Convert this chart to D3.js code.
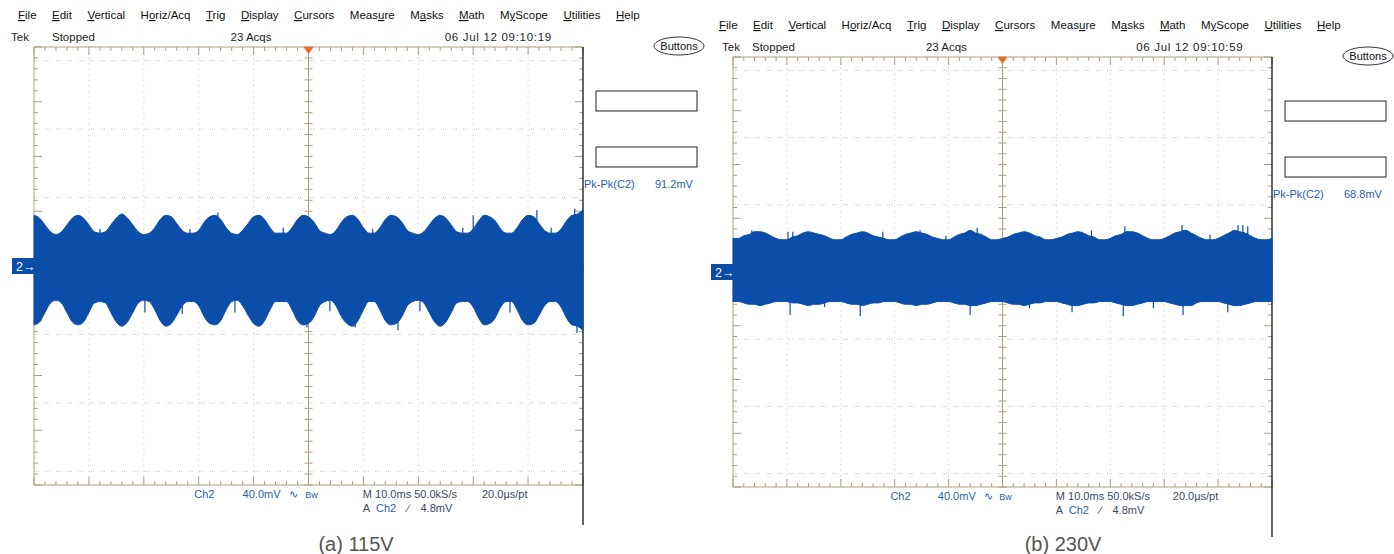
<!DOCTYPE html>
<html>
<head>
<meta charset="utf-8">
<script src="https://cdn.jsdelivr.net/npm/d3@7"></script>
<style>
body { margin: 0; background: #fff; }
svg text { font-family: "Liberation Sans Narrow", "Liberation Sans", Arial, sans-serif; }
</style>
</head>
<body>
<div id="chart"></div>
<script>
// scope sample times (ms), 10 ms/div over 10 divisions
var timeMs = d3.range(0, 101);

// (a) 115V - upper / lower envelope of the ripple band (mV)
var topA = [37, 35, 30, 25, 23, 25, 30, 35, 37, 35,
            30, 25, 24, 25, 30, 35, 38, 35, 30, 25,
            23, 24, 28, 34, 37, 36, 31, 26, 24, 24,
            26, 32, 36, 37, 34, 28, 24, 23, 26, 31,
            36, 37, 34, 28, 24, 24, 24, 28, 34, 37,
            36, 32, 26, 24, 23, 26, 32, 36, 37, 34,
            28, 24, 24, 28, 34, 37, 36, 32, 26, 24,
            23, 25, 30, 35, 37, 35, 30, 25, 24, 24,
            27, 33, 37, 36, 33, 27, 24, 24, 28, 34,
            37, 36, 31, 26, 24, 24, 27, 33, 37, 38,
            41];
var botA = [-43, -41, -34, -27, -25, -27, -34, -41, -43, -41,
            -34, -27, -26, -27, -34, -41, -44, -41, -34, -27,
            -25, -26, -32, -40, -44, -42, -36, -29, -26, -26,
            -29, -37, -42, -43, -40, -32, -26, -25, -29, -36,
            -42, -44, -40, -32, -26, -26, -26, -32, -40, -43,
            -42, -37, -29, -26, -25, -29, -37, -42, -44, -40,
            -32, -26, -26, -32, -40, -43, -42, -37, -29, -26,
            -25, -27, -34, -41, -44, -41, -34, -27, -26, -26,
            -30, -38, -43, -42, -38, -30, -26, -26, -32, -40,
            -43, -42, -36, -29, -26, -26, -30, -38, -43, -44,
            -47];
var spikeTimeA = [12.0, 20.2, 27.0, 28.4, 33.5, 36.6, 45.4, 49.7, 53.9, 58.5, 61.7, 66.3, 70.3, 78.1, 80.0, 86.7, 91.6, 94.2, 98.5, 98.9];
var spikeValA = [27, -34, -35, 27, 39, -34, 28, -45, -33, -45, 27, -47, -33, 28, 37, -34, 41, 28, 42, -49];

// (b) 230V
var topB = [25, 25, 27, 28, 30, 30, 29, 27, 25, 24,
            24, 26, 27, 29, 30, 29, 28, 27, 25, 24,
            24, 26, 28, 29, 30, 29, 27, 26, 25, 24,
            24, 26, 28, 29, 30, 29, 28, 26, 25, 24,
            24, 26, 28, 29, 31, 29, 28, 26, 24, 24,
            25, 26, 28, 29, 30, 29, 27, 26, 24, 24,
            25, 26, 28, 29, 30, 29, 27, 26, 24, 24,
            25, 27, 28, 30, 30, 29, 27, 25, 24, 24,
            25, 27, 29, 30, 31, 29, 27, 25, 24, 24,
            25, 27, 29, 31, 30, 29, 27, 25, 24, 24,
            25];
var botB = [-22, -22, -23, -24, -24, -25, -24, -23, -22, -22,
            -22, -23, -23, -24, -25, -24, -24, -23, -22, -22,
            -22, -23, -24, -24, -25, -24, -23, -23, -22, -22,
            -22, -23, -24, -24, -25, -24, -24, -23, -22, -22,
            -22, -23, -24, -24, -25, -25, -24, -23, -22, -22,
            -22, -23, -24, -24, -25, -24, -23, -23, -22, -22,
            -22, -23, -24, -25, -25, -24, -23, -23, -22, -22,
            -22, -23, -24, -25, -25, -24, -23, -22, -22, -22,
            -22, -23, -24, -25, -25, -25, -23, -22, -22, -22,
            -22, -23, -24, -25, -25, -24, -23, -22, -22, -22,
            -22];
var spikeTimeB = [3.5, 10.2, 10.6, 11.1, 17.0, 23.6, 27.8, 34.7, 39.5, 44.0, 45.3, 55.0, 62.9, 66.5, 72.4, 72.7, 78.0, 83.3, 83.5, 88.5, 91.8, 93.7, 94.6, 95.5];
var spikeValB = [31, 30, -32, 30, -26, -33, 30, 31, 27, -32, 33, -27, -30, 31, -33, 34, -27, 35, -32, 28, -30, 35, 35, 34];

// texts
var menuLabels = ["File", "Edit", "Vertical", "Horiz/Acq", "Trig", "Display", "Cursors", "Measure", "Masks", "Math", "MyScope", "Utilities", "Help"];
var menuKeys = [0, 0, 0, 1, 0, 0, 0, 4, 1, 0, 1, 0, 0];
var dateTexts = ["06 Jul 12 09:10:19", "06 Jul 12 09:10:59"];
var acqTexts = ["23 Acqs", "23 Acqs"];
var pkpkTexts = ["91.2mV", "68.8mV"];
var captions = ["(a) 115V", "(b) 230V"];

var traceColor = "#0b4ea9";
var gridColor = "#ad9f7e";
var infoBlue = "#2a60a5";

var svg = d3.select("#chart").append("svg")
    .attr("width", 1394)
    .attr("height", 554);

var panels = [
    { x0: 34, x1: 583, y0: 47, y1: 485, menuX: 18, menuY: 19, rowY: 41, tekX: 11, stopX: 52, lineEnd: 525, capX: 356,
      top: topA, bot: botA, spT: spikeTimeA, spV: spikeValA },
    { x0: 733, x1: 1272, y0: 57, y1: 487, menuX: 719, menuY: 29, rowY: 51, tekX: 722, stopX: 752, lineEnd: 537, capX: 1063,
      top: topB, bot: botB, spT: spikeTimeB, spV: spikeValB }
];

function drawScope(p, k) {
    var x = d3.scaleLinear().domain([0, 100]).range([p.x0, p.x1]);
    var y = d3.scaleLinear().domain([-160, 160]).range([p.y1, p.y0]);
    var w = p.x1 - p.x0;
    var g = svg.append("g");

    // menu bar
    var mx = p.menuX;
    menuLabels.forEach(function (m, i) {
        var t = g.append("text")
            .attr("x", mx)
            .attr("y", p.menuY)
            .attr("font-size", "11.5px")
            .attr("fill", "#111");
        var c = menuKeys[i];
        t.append("tspan").text(m.slice(0, c));
        t.append("tspan").attr("text-decoration", "underline").text(m.charAt(c));
        t.append("tspan").text(m.slice(c + 1));
        mx += t.node().getComputedTextLength() + 15.5;
    });

    // status row
    var row = [
        { x: p.tekX, t: "Tek", s: 0 },
        { x: p.stopX, t: "Stopped", s: 0 },
        { x: p.x0 + w * 0.358, t: acqTexts[k], s: 0 },
        { x: p.x0 + w * 0.748, t: dateTexts[k], s: 0.7 }
    ];
    g.selectAll(".row").data(row).enter().append("text")
        .attr("x", function (d) { return d.x; })
        .attr("y", p.rowY)
        .attr("font-size", "11.5px")
        .attr("letter-spacing", function (d) { return d.s; })
        .attr("fill", "#222")
        .text(function (d) { return d.t; });

    // dotted graticule
    g.selectAll(".vg").data(x.ticks(10).filter(function (d) { return d > 0 && d < 100 && d != 50; }))
        .enter().append("line")
        .attr("x1", function (d) { return x(d); })
        .attr("x2", function (d) { return x(d); })
        .attr("y1", p.y0).attr("y2", p.y1)
        .attr("stroke", "#c8c8c8")
        .attr("stroke-dasharray", "1,4.5");
    g.selectAll(".hg").data(y.ticks(8).filter(function (d) { return d > -160 && d < 160 && d != 0; }))
        .enter().append("line")
        .attr("x1", p.x0).attr("x2", p.x1)
        .attr("y1", function (d) { return y(d); })
        .attr("y2", function (d) { return y(d); })
        .attr("stroke", "#c8c8c8")
        .attr("stroke-dasharray", "1,1,1,1,1,6");

    // center cross
    g.append("line").attr("x1", x(50)).attr("x2", x(50)).attr("y1", p.y0).attr("y2", p.y1)
        .attr("stroke", gridColor);
    g.append("line").attr("x1", p.x0).attr("x2", p.x1).attr("y1", y(0)).attr("y2", y(0))
        .attr("stroke", gridColor);

    // ticks on borders and center lines
    var xMinor = d3.range(0, 100.01, 2);
    var yMinor = d3.range(-160, 160.01, 8);
    function tickLen(v, step) { return Math.abs(v % step) < 0.01 ? 8 : 4; }
    g.selectAll(".tt").data(xMinor).enter().append("line")
        .attr("x1", function (d) { return x(d); }).attr("x2", function (d) { return x(d); })
        .attr("y1", p.y0).attr("y2", function (d) { return p.y0 + tickLen(d, 10); })
        .attr("stroke", gridColor);
    g.selectAll(".bt").data(xMinor).enter().append("line")
        .attr("x1", function (d) { return x(d); }).attr("x2", function (d) { return x(d); })
        .attr("y1", p.y1).attr("y2", function (d) { return p.y1 - tickLen(d, 10); })
        .attr("stroke", gridColor);
    g.selectAll(".ct").data(xMinor).enter().append("line")
        .attr("x1", function (d) { return x(d); }).attr("x2", function (d) { return x(d); })
        .attr("y1", y(0) - 4).attr("y2", y(0) + 4)
        .attr("stroke", gridColor);
    g.selectAll(".lt").data(yMinor).enter().append("line")
        .attr("y1", function (d) { return y(d); }).attr("y2", function (d) { return y(d); })
        .attr("x1", p.x0).attr("x2", function (d) { return p.x0 + tickLen(d, 40); })
        .attr("stroke", gridColor);
    g.selectAll(".rt").data(yMinor).enter().append("line")
        .attr("y1", function (d) { return y(d); }).attr("y2", function (d) { return y(d); })
        .attr("x1", p.x1).attr("x2", function (d) { return p.x1 - tickLen(d, 40); })
        .attr("stroke", gridColor);
    g.selectAll(".mt").data(yMinor).enter().append("line")
        .attr("y1", function (d) { return y(d); }).attr("y2", function (d) { return y(d); })
        .attr("x1", x(50) - 4).attr("x2", x(50) + 4)
        .attr("stroke", gridColor);

    // borders
    g.append("path")
        .attr("d", "M" + p.x1 + "," + p.y0 + "H" + p.x0 + "V" + p.y1 + "H" + p.x1)
        .attr("fill", "none")
        .attr("stroke", gridColor);
    g.append("line").attr("x1", p.x1).attr("x2", p.x1).attr("y1", p.y0).attr("y2", p.lineEnd)
        .attr("stroke", "#111").attr("stroke-width", 1.3);

    // trace: noise spikes, then the ripple band
    g.selectAll(".spk").data(p.spT).enter().append("line")
        .attr("x1", function (d) { return x(d); })
        .attr("x2", function (d) { return x(d); })
        .attr("y1", y(0))
        .attr("y2", function (d, i) { return y(p.spV[i]); })
        .attr("stroke", traceColor)
        .attr("stroke-width", 1.2);

    var band = d3.area()
        .x(function (d, i) { return x(timeMs[i]); })
        .y0(function (d, i) { return y(p.bot[i]); })
        .y1(function (d) { return y(d); })
        .curve(d3.curveMonotoneX);
    g.append("path")
        .datum(p.top)
        .attr("d", band)
        .attr("fill", traceColor)
        .attr("stroke", traceColor)
        .attr("stroke-width", 1);

    // channel marker and trigger position
    g.append("rect")
        .attr("x", p.x0 - 22).attr("y", y(0) - 8)
        .attr("width", 22).attr("height", 16)
        .attr("fill", traceColor);
    g.append("text")
        .attr("x", p.x0 - 18).attr("y", y(0) + 5)
        .attr("font-size", "12.5px")
        .attr("fill", "#fff")
        .text("2\u2192");
    g.append("path")
        .attr("d", "M" + (x(50) - 5) + "," + p.y0 + "L" + (x(50) + 5) + "," + p.y0 + "L" + x(50) + "," + (p.y0 + 7) + "Z")
        .attr("fill", "#f26a22");

    // side measurement area
    [44, 100].forEach(function (dy) {
        g.append("rect")
            .attr("x", p.x1 + 13).attr("y", p.y0 + dy)
            .attr("width", 101).attr("height", 20)
            .attr("fill", "none")
            .attr("stroke", "#222");
    });
    g.append("text").attr("x", p.x1 + 1).attr("y", p.y0 + 141)
        .attr("font-size", "11px").attr("fill", infoBlue).text("Pk-Pk(C2)");
    g.append("text").attr("x", p.x1 + 72).attr("y", p.y0 + 141)
        .attr("font-size", "11px").attr("fill", infoBlue).text(pkpkTexts[k]);
    g.append("ellipse")
        .attr("cx", p.x1 + 96).attr("cy", p.y0 - 1)
        .attr("rx", 25).attr("ry", 9)
        .attr("fill", "#fff").attr("stroke", "#333");
    g.append("text").attr("x", p.x1 + 96).attr("y", p.y0 + 3)
        .attr("text-anchor", "middle")
        .attr("font-size", "11px").attr("fill", "#111").text("Buttons");

    // bottom readout
    var by = p.y1 + 13;
    var readout = [
        { x: p.x0 + w * 0.292, y: by, t: "Ch2", c: infoBlue },
        { x: p.x0 + w * 0.38, y: by, t: "40.0mV", c: infoBlue },
        { x: p.x0 + w * 0.465, y: by, t: "\u223F", c: infoBlue },
        { x: p.x0 + w * 0.494, y: by, t: "Bw", c: infoBlue },
        { x: p.x0 + w * 0.599, y: by, t: "M 10.0ms 50.0kS/s", c: "#3a4a5e" },
        { x: p.x0 + w * 0.816, y: by, t: "20.0\u00B5s/pt", c: "#3a4a5e" },
        { x: p.x0 + w * 0.599, y: by + 14, t: "A", c: "#3a4a5e" },
        { x: p.x0 + w * 0.623, y: by + 14, t: "Ch2", c: infoBlue },
        { x: p.x0 + w * 0.68, y: by + 14, t: "\u2215", c: "#3a4a5e" },
        { x: p.x0 + w * 0.704, y: by + 14, t: "4.8mV", c: "#3a4a5e" }
    ];
    g.selectAll(".ro").data(readout).enter().append("text")
        .attr("x", function (d) { return d.x; })
        .attr("y", function (d) { return d.y; })
        .attr("font-size", function (d) { return d.t == "Bw" ? "9px" : "11px"; })
        .attr("fill", function (d) { return d.c; })
        .text(function (d) { return d.t; });

    g.append("text")
        .attr("x", p.capX).attr("y", 551)
        .attr("text-anchor", "middle")
        .attr("font-size", "20px")
        .style("font-family", "'Liberation Sans', Arial, sans-serif")
        .attr("fill", "#555")
        .text(captions[k]);
}

panels.forEach(drawScope);
</script>
</body>
</html>
